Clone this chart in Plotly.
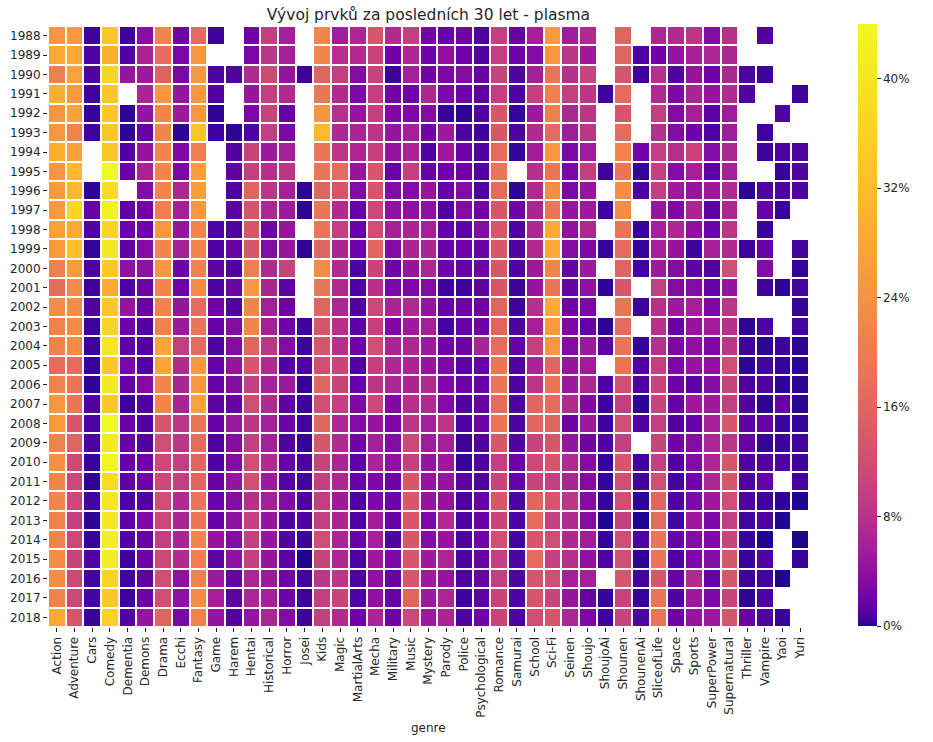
import plotly.graph_objects as go
from plotly.colors import sample_colorscale

genres = ["Action", "Adventure", "Cars", "Comedy", "Dementia", "Demons", "Drama", "Ecchi",
          "Fantasy", "Game", "Harem", "Hentai", "Historical", "Horror", "Josei", "Kids",
          "Magic", "MartialArts", "Mecha", "Military", "Music", "Mystery", "Parody", "Police",
          "Psychological", "Romance", "Samurai", "School", "Sci-Fi", "Seinen", "Shoujo",
          "ShoujoAi", "Shounen", "ShounenAi", "SliceofLife", "Space", "Sports", "SuperPower",
          "Supernatural", "Thriller", "Vampire", "Yaoi", "Yuri"]
years = [str(y) for y in range(1988, 2019)]
N = None

# share of titles (%) per genre, one list per year
y1988 = [24.9,25.6,0.4,34.3,0.4,3.7,21.7,2.0,17.0,0.4,N,2.1,9.8,5.7, N,21.7,5.4,6.7,13.4,7.1,9.8,2.1,1.6,2.1,0.75,9.8,1.6,5.7, 25.6,5.4,7.1,N,15.9,N,6.7,7.1,8.6,3.2,7.8,N,0.9,N,N]
y1989 = [28.3,28.3,0.75,29.8,0.9,6.4,17.0,2.6,24.9,N,N,2.8,8.6,5.7, N,21.7,7.8,7.1,10.6,2.1,6.7,2.1,4.0,2.1,0.9,9.8,2.1,3.2, 24.9,8.6,5.1,N,15.9,0.75,2.1,4.5,5.7,6.7,6.7,N,N,N,N]
y1990 = [20.5,27.0,0.9,36.7,4.5,5.1,15.4,2.6,24.9,0.75,0.75,7.1,11.5,4.5, 0.4,15.9,9.8,3.2,10.6,0.4,5.7,2.1,2.8,3.2,1.6,10.6,0.9,5.7, 18.7,7.8,10.6,N,13.4,0.4,7.8,0.9,4.5,2.1,6.7,0.75,0.4,N,N]
y1991 = [29.8,25.6,0.4,34.3,N,6.4,24.9,4.5,24.9,0.9,N,4.5,9.8,7.1, N,18.7,7.1,2.8,9.8,2.1,2.0,6.7,2.8,2.1,1.3,9.8,0.75,9.8, 20.5,9.8,8.6,0.4,17.0,N,7.1,2.8,6.4,4.5,7.1,0.9,N,N,0.4]
y1992 = [24.9,27.0,0.3,34.3,0.2,4.5,21.7,5.1,24.9,0.2,N,2.6,10.6,1.6, N,24.3,7.8,4.5,9.8,2.8,2.8,3.2,0.3,0.2,0.9,13.4,0.3,5.1, 20.5,6.7,8.6,N,13.4,N,9.8,3.2,5.7,1.3,5.4,N,N,0.75,N]
y1993 = [24.9,21.1,0.4,34.3,0.2,1.6,21.7,0.2,33.5,0.4,0.2,0.75,9.8,2.8, N,31.3,6.7,6.4,8.6,4.5,5.7,2.1,5.1,0.75,0.4,13.4,0.75,7.1, 17.0,5.4,8.6,N,17.0,N,7.8,3.2,2.1,0.75,5.4,N,0.4,N,N]
y1994 = [29.8,27.0,N,34.3,0.9,4.5,21.7,2.8,20.5,N,0.9,10.6,5.1,5.7, N,18.7,8.6,6.7,9.8,4.5,6.4,0.9,5.1,2.1,0.75,17.0,0.3,5.4, 24.9,2.6,5.4,N,21.7,2.1,9.8,7.8,10.6,3.2,6.7,N,0.4,0.75,0.75]
y1995 = [24.9,31.3,N,44.0,1.6,6.4,21.7,2.6,26.3,N,1.3,9.8,7.8,8.6, N,18.7,17.0,4.5,13.4,1.6,9.8,1.6,2.1,2.1,0.9,18.7,N,7.8, 18.7,2.6,9.8,0.4,18.7,0.3,9.8,3.2,5.7,1.3,5.7,N,N,0.3,0.9]
y1996 = [25.6,31.3,0.2,38.3,N,3.2,21.7,6.7,26.3,N,0.75,15.9,8.6,5.7, 0.2,15.9,13.4,3.2,13.4,3.2,3.2,4.5,1.6,3.2,0.75,17.0,0.2,7.1, 23.0,2.6,4.5,N,23.0,0.75,9.8,5.1,4.5,5.1,7.1,0.2,0.75,0.75,0.75]
y1997 = [25.6,37.5,1.6,42.5,1.3,2.1,20.5,5.7,24.9,N,1.3,13.4,6.7,5.1, 0.2,18.7,7.1,1.6,11.1,4.0,4.0,4.0,0.9,3.2,2.1,13.4,2.1,6.4, 18.7,4.5,5.1,0.4,23.0,N,4.5,2.8,6.4,1.3,6.7,N,1.6,0.3,N]
y1998 = [27.0,28.3,0.75,36.7,2.0,2.1,24.9,4.5,21.7,0.75,0.75,13.4,2.0,4.5, N,18.7,9.8,1.6,12.0,5.7,6.4,5.7,1.6,1.3,3.2,13.4,0.75,6.7, 28.3,4.0,6.7,N,18.7,0.3,5.7,6.7,4.0,2.0,8.6,N,0.3,N,N]
y1999 = [25.6,32.8,0.3,40.8,1.3,3.2,21.7,5.7,21.7,0.9,1.6,13.4,3.2,4.5, 0.2,15.9,6.4,2.1,15.9,3.2,6.4,6.4,1.6,2.1,1.6,13.4,0.9,7.1, 28.3,3.2,2.8,0.3,17.0,0.3,5.7,4.5,0.4,5.7,7.1,0.4,1.6,N,0.5]
y2000 = [20.5,25.6,0.75,34.3,4.0,4.0,24.9,2.1,21.1,1.3,0.9,20.5,7.1,10.6, N,23.0,7.1,0.75,10.6,2.1,4.5,6.7,2.1,1.6,2.1,13.4,0.9,5.1, 21.7,1.6,5.1,N,15.9,0.5,5.1,3.2,1.3,0.75,12.0,N,3.2,N,0.3]
y2001 = [17.0,23.0,0.4,28.3,0.75,2.0,21.7,2.1,23.0,0.75,2.0,24.9,6.4,1.3, N,18.7,7.1,0.9,7.8,2.6,2.8,3.2,0.4,0.4,1.3,13.4,0.4,4.5, 18.7,1.6,4.0,0.2,13.4,N,9.8,3.2,3.2,1.6,4.5,N,0.4,0.2,0.5]
y2002 = [23.0,23.0,0.9,34.3,4.5,1.6,21.1,4.5,17.0,2.1,0.75,21.7,5.7,2.0, N,15.9,6.7,0.9,11.1,6.4,7.1,4.5,1.6,2.1,2.0,15.9,0.4,7.8, 28.3,2.1,2.8,N,18.7,0.4,7.8,5.1,5.7,2.8,8.6,N,N,N,0.3]
y2003 = [21.1,23.0,0.4,36.7,2.0,0.9,21.1,5.1,18.7,1.6,3.2,21.7,5.7,2.1, 0.4,13.4,7.8,1.3,9.8,2.8,5.1,5.7,0.5,1.6,2.0,15.9,0.75,5.7, 25.6,2.8,1.6,0.2,17.0,N,7.8,1.6,4.5,5.4,7.8,0.2,0.75,N,0.5]
y2004 = [21.1,23.0,0.4,40.0,1.3,0.9,27.6,9.8,17.0,0.75,3.2,15.9,8.6,3.2, 0.4,13.4,7.8,2.0,12.0,6.4,6.7,5.1,2.1,2.0,6.4,17.0,1.6,9.8, 24.9,3.2,5.1,1.3,18.7,0.3,7.8,2.8,4.0,2.8,8.6,0.4,0.2,0.4,0.2]
y2005 = [17.0,17.0,0.3,34.3,2.6,0.9,27.6,7.1,24.9,1.6,4.5,13.4,7.1,0.9, 0.75,12.0,10.6,0.75,9.8,6.7,6.4,4.5,2.8,1.3,1.6,18.7,0.75,6.4, 15.9,4.5,5.4,N,18.7,0.9,9.8,2.8,4.5,4.0,12.0,0.2,0.5,0.3,0.2]
y2006 = [21.1,18.7,0.2,40.8,1.6,3.2,21.7,6.4,24.9,1.6,3.2,9.8,5.7,5.1, 0.3,15.9,10.6,1.6,8.6,6.7,6.4,7.1,2.8,2.0,1.6,18.7,0.9,8.6, 18.7,5.1,6.7,0.75,12.0,0.75,10.6,2.0,1.3,3.2,10.6,0.75,0.75,0.2,0.2]
y2007 = [24.9,18.7,0.75,34.3,0.4,0.75,21.7,6.4,27.0,1.3,1.6,12.0,7.1,1.3, 0.4,12.0,9.8,2.8,11.1,2.8,7.8,7.1,3.2,0.9,1.6,17.0,0.75,15.9, 17.0,7.1,2.8,0.4,9.8,0.2,10.6,1.6,5.1,5.1,9.8,0.9,0.2,1.6,0.2]
y2008 = [25.6,13.4,0.75,44.0,1.6,0.9,13.4,8.6,18.7,1.6,5.1,8.6,5.7,2.0, 0.5,15.9,6.7,3.2,4.5,2.8,8.6,5.7,8.6,0.9,2.0,18.7,0.75,15.9, 15.9,2.1,5.1,0.4,12.0,0.9,9.8,0.9,1.6,5.7,13.4,1.3,1.6,0.4,0.3]
y2009 = [21.1,15.9,0.75,40.8,1.6,0.9,12.0,8.6,17.0,0.75,3.2,9.8,5.7,0.75, 0.3,13.4,7.1,2.1,5.7,3.2,11.1,5.4,5.7,0.4,0.9,13.4,0.9,10.6, 13.4,4.5,2.1,0.9,9.8,N,10.6,2.1,3.2,6.7,8.6,1.6,0.3,0.4,0.5]
y2010 = [23.6,11.5,0.3,43.4,1.6,2.1,11.1,9.8,15.9,0.75,3.2,12.0,7.1,1.6, 0.75,10.6,6.4,1.3,6.4,4.0,9.8,4.5,5.1,0.3,0.75,9.8,2.0,11.1, 13.4,7.1,3.2,0.3,13.4,0.4,9.8,0.9,3.2,6.7,13.4,0.75,0.9,0.75,0.4]
y2011 = [21.7,11.1,0.2,38.3,1.3,2.1,11.1,9.8,15.9,1.6,4.5,12.0,5.1,0.9, 0.5,9.8,6.7,1.6,2.8,2.0,13.4,4.5,4.5,1.3,0.75,10.6,1.6,10.6, 9.8,6.4,3.2,0.3,12.0,0.4,12.0,0.5,2.1,6.7,13.4,0.75,1.6,N,0.5]
y2012 = [21.7,11.1,0.5,40.0,0.75,0.9,12.0,7.1,18.7,2.0,3.2,7.8,5.7,3.2, 0.75,9.8,5.1,0.75,2.8,2.0,13.4,4.5,4.5,0.75,1.6,13.4,0.75,15.9, 13.4,8.6,3.2,0.3,12.0,0.2,15.9,0.75,2.8,5.1,12.0,0.75,0.4,0.2,0.05]
y2013 = [21.1,9.8,0.2,40.8,1.3,2.8,11.1,6.4,18.7,1.6,4.0,9.8,4.5,0.75, 0.9,9.8,6.4,0.75,5.4,1.6,13.4,2.8,7.1,0.75,1.6,10.6,0.75,17.0, 9.8,7.1,3.2,0.05,9.8,0.05,17.0,0.5,5.1,2.8,9.8,0.5,0.75,0.05,N]
y2014 = [21.1,11.1,0.3,41.7,0.75,1.6,9.8,6.4,21.7,4.5,3.2,9.8,4.5,0.9, 0.4,12.0,6.4,1.6,5.7,0.75,13.4,3.2,4.5,0.75,2.0,12.0,0.5,13.4, 12.0,6.7,5.4,0.3,12.0,0.75,18.7,1.6,3.2,2.8,10.6,0.3,0.05,N,0.05]
y2015 = [23.0,10.6,0.9,41.7,0.4,2.0,11.1,7.1,20.5,1.3,4.0,9.8,4.5,1.3, 0.05,10.6,6.7,0.75,5.1,2.8,13.4,5.1,6.7,0.75,1.6,9.8,0.75,17.0, 9.8,7.8,4.0,0.75,12.0,0.2,18.7,0.75,2.8,3.2,13.4,0.3,0.9,N,0.3]
y2016 = [23.0,11.1,0.5,36.7,0.5,1.3,12.0,4.0,21.1,5.1,1.6,6.7,5.1,2.1, 0.5,8.6,8.6,0.75,4.0,1.6,13.4,5.1,4.5,0.75,1.6,9.8,0.75,13.4, 12.0,5.7,5.7,N,13.4,0.5,13.4,1.6,7.1,1.6,13.4,0.4,0.5,0.05,N]
y2017 = [21.1,11.1,0.5,34.3,0.4,2.0,12.0,4.0,23.0,5.7,1.3,6.7,5.7,2.0, 0.4,9.8,10.6,0.75,4.0,1.6,15.9,5.1,6.7,0.4,1.3,10.6,0.75,13.4, 10.6,4.5,1.6,0.3,10.6,0.3,18.7,0.75,5.1,2.8,10.6,0.2,0.75,N,N]
y2018 = [28.3,13.4,0.3,35.9,0.9,4.5,15.9,2.6,21.1,4.5,0.9,4.5,6.7,3.2, 0.4,9.8,7.1,2.0,6.4,2.0,11.1,5.1,6.4,0.75,2.1,10.6,0.75,12.0, 13.4,6.7,2.6,0.4,10.6,0.75,18.7,2.0,4.5,5.1,13.4,1.6,0.75,0.3,N]

z = [y1988, y1989, y1990, y1991, y1992, y1993, y1994, y1995, y1996, y1997,
     y1998, y1999, y2000, y2001, y2002, y2003, y2004, y2005, y2006, y2007,
     y2008, y2009, y2010, y2011, y2012, y2013, y2014, y2015, y2016, y2017, y2018]

cbar_ticks = [0, 8, 16, 24, 32, 40]
cbar_text = [f"{t}%" for t in cbar_ticks]

# plasma colormap displayed with a square-root (power) norm
steps = [k / 40 for k in range(41)]
plasma_cols = sample_colorscale("Plasma", steps)
colorscale = [[s * s, c] for s, c in zip(steps, plasma_cols)]

FONT = "DejaVu Sans"
TXT = "#262626"

fig = go.Figure(go.Heatmap(
    z=z, x=genres, y=years,
    zmin=0, zmax=44.0,
    colorscale=colorscale,
    xgap=2, ygap=2,
    hoverongaps=False,
    colorbar=dict(
        x=(858 - 48) / 761, xanchor="left", xref="paper",
        y=(627 - 325) / 601, yanchor="middle",
        thickness=19, lenmode="pixels", len=602,
        outlinewidth=0, xpad=0, ypad=0,
        tickvals=cbar_ticks, ticktext=cbar_text,
        ticks="outside", ticklen=4, tickcolor=TXT, tickwidth=1,
        tickfont=dict(family=FONT, size=12, color=TXT),
    ),
))

fig.update_layout(
    width=933, height=742,
    margin=dict(l=48, r=124, t=26, b=115, autoexpand=False),
    paper_bgcolor="white", plot_bgcolor="white",
    font=dict(family=FONT, size=12, color=TXT),
    title=dict(text="Vývoj prvků za posledních 30 let - plasma",
               x=(48 + 809) / 2 / 933, xanchor="center", y=1 - 15 / 742, yanchor="middle",
               font=dict(family=FONT, size=15.5, color=TXT)),
    annotations=[dict(text="genre", xref="paper", yref="paper", x=0.5, y=(627 - 728) / 601,
                      xanchor="center", yanchor="middle", showarrow=False,
                      font=dict(family=FONT, size=12, color=TXT))],
)
fig.update_xaxes(type="category", tickangle=-90, ticks="outside", ticklen=4, tickcolor=TXT,
                 showgrid=False, zeroline=False, showline=False, automargin=False,
                 tickfont=dict(family=FONT, size=12, color=TXT))
fig.update_yaxes(type="category", autorange="reversed", ticks="outside", ticklen=4, tickcolor=TXT,
                 showgrid=False, zeroline=False, showline=False, automargin=False,
                 tickfont=dict(family=FONT, size=12, color=TXT))

fig.write_html("out.html", config={"displayModeBar": False},
               post_script="document.body.style.margin='0';document.body.style.overflow='hidden';")
